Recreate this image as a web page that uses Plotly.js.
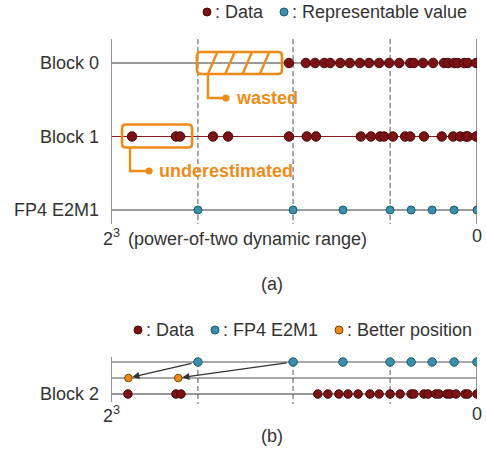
<!DOCTYPE html>
<html>
<head>
<meta charset="utf-8">
<script src="https://cdn.plot.ly/plotly-3.0.1.min.js"></script>
<style>html,body{margin:0;padding:0;background:#fff;}#chart{width:486px;height:454px;}</style>
</head>
<body>
<div id="chart"></div>
<script>
// ---- data (position along the magnitude axis: 2^3 = 8 on the left, 0 on the right) ----
const fp4Labels = ["6", "4", "3", "2", "1.5", "1", "0.5", "0"];
const fp4Values = [6.10, 4.02, 2.93, 1.90, 1.44, 0.98, 0.50, 0.00];
const block0 = [4.11, 3.74, 3.54, 3.34, 3.21, 2.99, 2.78, 2.56, 2.36, 2.14, 1.92, 1.70, 1.46, 1.38, 1.18, 0.96, 0.72, 0.63, 0.50, 0.42, 0.28, 0.20, 0.02];
const block1 = [7.54, 6.58, 6.49, 5.77, 5.44, 4.11, 3.72, 3.52, 2.54, 2.32, 2.12, 2.03, 1.84, 1.57, 1.46, 1.16, 0.77, 0.52, 0.37, 0.24, 0.20, 0.02];
const block2 = [7.63, 6.58, 6.47, 3.48, 3.26, 3.02, 2.82, 2.60, 2.34, 2.14, 1.90, 1.68, 1.44, 1.38, 1.16, 1.07, 0.90, 0.83, 0.66, 0.59, 0.46, 0.26, 0.20, 0.00];
const betterPos = [7.62, 6.53];
const betterFromIdx = [0, 1];
const dashedIdx = [0, 1, 3];
const rowLabelsA = ["Block 0", "Block 1", "FP4 E2M1"];
const rowLabelsB = ["", "", "Block 2"];
const xMax = 8;

// ---- layout constants ----
const W = 486, H = 454, L = 111, R = 9;
const PW = W - L - R;
const topRow0 = 63, topStep = 73.5, topY0 = 39, topY1 = 224;
const botRow0 = 362, botStep = 16, botY0 = 355, botY1 = 404;
const RED = '#7b1214', RED_L = '#4a0808';
const TEAL = '#3b8fae', TEAL_L = '#1d5870';
const ORANGE = '#ee8b17', ORANGE_L = '#7a4400';
const FONT = 'Liberation Sans, Arial, sans-serif';
const FS = 18;
const TXT = '#333';

const pxX = v => L + (xMax - v) / xMax * PW;
const pxTop = r => topRow0 + topStep * r;
const pxBot = r => botRow0 + botStep * r;
const paperX = px => (px - L) / PW;
const paperY = py => 1 - py / H;
const rTop = py => (py - topRow0) / topStep;
const rBot = py => (py - botRow0) / botStep;
const rep = (n, v) => Array(n).fill(v);
const dashedAt = dashedIdx.map(i => fp4Values[i]);

const traces = [
  {x: block0, y: rep(block0.length, 0), xaxis: 'x', yaxis: 'y', mode: 'markers', type: 'scatter',
   marker: {size: 9.5, color: RED, line: {color: RED_L, width: 1}}, hoverinfo: 'skip'},
  {x: block1, y: rep(block1.length, 1), xaxis: 'x', yaxis: 'y', mode: 'markers', type: 'scatter',
   marker: {size: 9.5, color: RED, line: {color: RED_L, width: 1}}, hoverinfo: 'skip'},
  {x: fp4Values, y: rep(fp4Values.length, 2), xaxis: 'x', yaxis: 'y', mode: 'markers', type: 'scatter',
   text: fp4Labels, marker: {size: 8, color: TEAL, line: {color: TEAL_L, width: 1}}, hoverinfo: 'skip'},
  {x: fp4Values, y: rep(fp4Values.length, 0), xaxis: 'x2', yaxis: 'y2', mode: 'markers', type: 'scatter',
   text: fp4Labels, marker: {size: 8.5, color: TEAL, line: {color: TEAL_L, width: 1}}, hoverinfo: 'skip'},
  {x: betterPos, y: rep(betterPos.length, 1), xaxis: 'x2', yaxis: 'y2', mode: 'markers', type: 'scatter',
   marker: {size: 7.5, color: ORANGE, line: {color: ORANGE_L, width: 1}}, hoverinfo: 'skip'},
  {x: block2, y: rep(block2.length, 2), xaxis: 'x2', yaxis: 'y2', mode: 'markers', type: 'scatter',
   marker: {size: 8.5, color: RED, line: {color: RED_L, width: 1}}, hoverinfo: 'skip'}
];

const shapes = [];
const line = (xref, yref, x0, y0, x1, y1, color, width, dash) =>
  shapes.push({type: 'line', xref, yref, x0, y0, x1, y1, layer: 'below',
               line: {color, width, dash: dash || 'solid'}});

// panel (a) frame
const aTop = rTop(topY0), aBot = rTop(topY1);
line('x', 'y', xMax, 0, 0, 0, '#7a7a7a', 1.3);
line('x', 'y', xMax, 1, 0, 1, '#8b1a1a', 1.2);
line('x', 'y', xMax, 2, 0, 2, '#7a7a7a', 1.3);
line('x', 'y', xMax, aTop, xMax, aBot, '#8a8a8a', 1.8);
line('x', 'y', 0, aTop, 0, aBot, '#8a8a8a', 1.8);
dashedAt.forEach(d => line('x', 'y', d, aTop, d, aBot, '#555', 1, '5px,3px'));

// panel (b) frame
line('x2', 'y2', xMax, 0, 0, 0, '#555', 1.2);
line('x2', 'y2', xMax, 1, 0, 1, '#555', 1.2);
line('x2', 'y2', xMax, 2, 0, 2, '#333', 1.2);
line('x2', 'y2', xMax, rBot(357), xMax, rBot(402), '#8a8a8a', 1.8);
line('x2', 'y2', 0, 0, 0, 2, '#8a8a8a', 1.8);
dashedAt.forEach(d => line('x2', 'y2', d, 0, d, rBot(botY1), '#555', 1, '5px,3px'));

// helpers for pixel-space annotation shapes
const P = (x, y) => paperX(x).toFixed(5) + ',' + paperY(y).toFixed(5);
function roundRect(x0, y0, x1, y1, r) {
  return 'M' + P(x0 + r, y0) + ' L' + P(x1 - r, y0) + ' Q' + P(x1, y0) + ' ' + P(x1, y0 + r) +
    ' L' + P(x1, y1 - r) + ' Q' + P(x1, y1) + ' ' + P(x1 - r, y1) +
    ' L' + P(x0 + r, y1) + ' Q' + P(x0, y1) + ' ' + P(x0, y1 - r) +
    ' L' + P(x0, y0 + r) + ' Q' + P(x0, y0) + ' ' + P(x0 + r, y0) + ' Z';
}
const pathShape = (d, color, width) => shapes.push({type: 'path', xref: 'paper', yref: 'paper', path: d,
  line: {color, width}, fillcolor: 'rgba(0,0,0,0)', layer: 'above'});
const dot = (cx, cy, r, fill, lc) => shapes.push({type: 'circle', xref: 'paper', yref: 'paper',
  x0: paperX(cx - r), x1: paperX(cx + r), y0: paperY(cy - r), y1: paperY(cy + r),
  fillcolor: fill, line: {color: lc || fill, width: lc ? 1 : 0}, layer: 'above'});

// "wasted" box: from the FP4 grid value 6 up to just before the largest Block 0 value
const wx0 = pxX(fp4Values[0]) - 1, wx1 = pxX(Math.max(...block0)) - 7;
const wy0 = pxTop(0) - 11, wy1 = pxTop(0) + 11;
pathShape(roundRect(wx0, wy0, wx1, wy1, 4), ORANGE, 2.6);
for (let i = 0; i < 4; i++) {
  const bx = wx0 + 11 + i * 17.3;
  pathShape('M' + P(bx, wy1) + ' L' + P(bx + 9.5, wy0), ORANGE, 2.4);
}
pathShape('M' + P(wx0 + 11, wy1) + ' L' + P(wx0 + 11, 98) + ' L' + P(wx0 + 28, 98), ORANGE, 2.4);
dot(wx0 + 29, 98, 3.6, ORANGE);

// "underestimated" box around Block 1 values beyond the largest grid value
const big1 = block1.filter(v => v > fp4Values[0]);
const ux0 = pxX(Math.max(...big1)) - 10, ux1 = pxX(Math.min(...big1)) + 12;
const uy0 = pxTop(1) - 12, uy1 = pxTop(1) + 11;
pathShape(roundRect(ux0, uy0, ux1, uy1, 4), ORANGE, 2.6);
pathShape('M' + P(ux0 + 8, uy1) + ' L' + P(ux0 + 8, 171) + ' L' + P(ux0 + 26, 171), ORANGE, 2.4);
dot(ux0 + 27, 171, 3.6, ORANGE);

// legend dots
dot(207, 12, 4, RED, RED_L);
dot(284, 12, 4, TEAL, TEAL_L);
dot(138, 330, 4, RED, RED_L);
dot(215, 330, 4, TEAL, TEAL_L);
dot(339, 330, 4, ORANGE, ORANGE_L);

const ann = [];
const txt = (px, py, text, anchor, opts) => ann.push(Object.assign({
  xref: 'paper', yref: 'paper', x: paperX(px), y: paperY(py), text, showarrow: false,
  xanchor: anchor, yanchor: 'middle', font: {family: FONT, size: FS, color: TXT}}, opts || {}));

rowLabelsA.forEach((t, i) => txt(101, pxTop(i), t, 'right'));
rowLabelsB.forEach((t, i) => { if (t) txt(101, pxBot(i), t, 'right'); });
txt(101, 238, '2<sup>3</sup>', 'left');
txt(126, 239, '(power-of-two dynamic range)', 'left');
txt(pxX(0), 236, '0', 'center');
txt(272, 284, '(a)', 'center');
txt(101, 414, '2<sup>3</sup>', 'left');
txt(pxX(0), 414, '0', 'center');
txt(272, 436, '(b)', 'center');
txt(213, 12, ': Data', 'left');
txt(290, 12, ': Representable value', 'left');
txt(144, 330, ': Data', 'left');
txt(221, 330, ': FP4 E2M1', 'left');
txt(345, 330, ': Better position', 'left');
txt(wx0 + 37, 98, '<b>wasted</b>', 'left', {font: {family: FONT, size: FS, color: ORANGE}});
txt(ux0 + 35, 171, '<b>underestimated</b>', 'left', {font: {family: FONT, size: FS, color: ORANGE}});

// arrows from FP4 grid points to the better positions
betterPos.forEach((b, i) => ann.push({xref: 'x2', yref: 'y2', x: b, y: 1, axref: 'x2', ayref: 'y2',
  ax: fp4Values[betterFromIdx[i]], ay: 0, text: '', showarrow: true, arrowhead: 2, arrowsize: 1.1,
  arrowwidth: 1.3, arrowcolor: '#333', standoff: 4, startstandoff: 5}));

const axisOff = {visible: false, showgrid: false, zeroline: false, fixedrange: true};
const layout = {
  width: W, height: H, margin: {l: L, r: R, t: 0, b: 0, pad: 0},
  paper_bgcolor: '#fff', plot_bgcolor: 'rgba(0,0,0,0)', showlegend: false,
  xaxis: Object.assign({range: [xMax, 0], domain: [0, 1], anchor: 'y'}, axisOff),
  yaxis: Object.assign({range: [rTop(topY1), rTop(topY0)], domain: [paperY(topY1), paperY(topY0)], anchor: 'x'}, axisOff),
  xaxis2: Object.assign({range: [xMax, 0], domain: [0, 1], anchor: 'y2'}, axisOff),
  yaxis2: Object.assign({range: [rBot(botY1), rBot(botY0)], domain: [paperY(botY1), paperY(botY0)], anchor: 'x2'}, axisOff),
  shapes, annotations: ann
};
Plotly.newPlot('chart', traces, layout, {staticPlot: true, displayModeBar: false});
</script>
</body>
</html>
